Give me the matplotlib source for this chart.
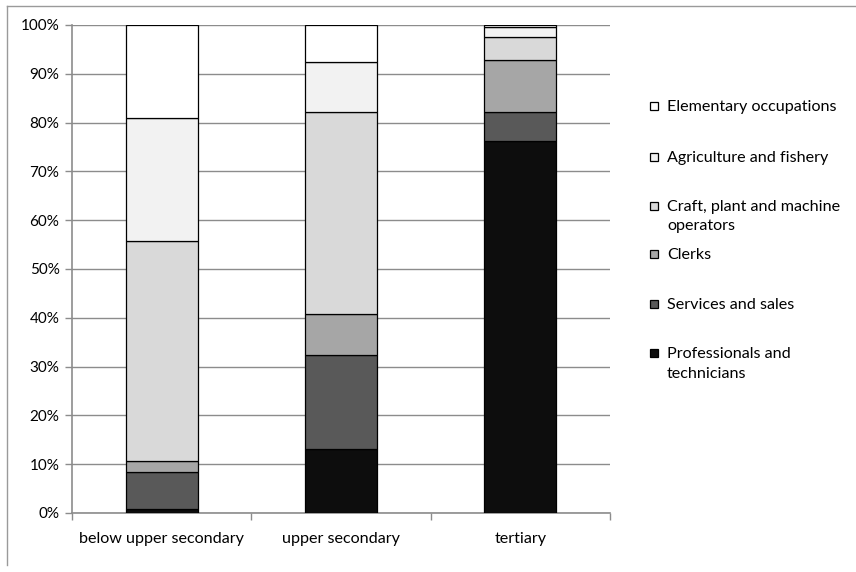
import matplotlib
matplotlib.use("Agg")
import matplotlib.pyplot as plt
from matplotlib.patches import Rectangle
from matplotlib.lines import Line2D
from matplotlib.ticker import FuncFormatter

plt.rcParams['font.family'] = ['Lato', 'DejaVu Sans']

categories = ["below upper secondary", "upper secondary", "tertiary"]
series_names = ["Professionals and technicians", "Services and sales", "Clerks",
                "Craft, plant and machine operators", "Agriculture and fishery",
                "Elementary occupations"]
legend_labels = ["Professionals and\ntechnicians", "Services and sales", "Clerks",
                 "Craft, plant and machine\noperators", "Agriculture and fishery",
                 "Elementary occupations"]
professionals = [0.8, 13.1, 76.2]
services = [7.6, 19.2, 6.0]
clerks = [2.3, 8.5, 10.6]
craft = [45.0, 41.4, 4.7]
agriculture = [25.3, 10.2, 2.1]
elementary = [19.0, 7.6, 0.4]
series = [professionals, services, clerks, craft, agriculture, elementary]
colors = ["#0d0d0d", "#595959", "#a6a6a6", "#d9d9d9", "#f2f2f2", "#ffffff"]

W, H = 856, 572
fig = plt.figure(figsize=(W / 100, H / 100), dpi=100)

def fx(px):
    return px / W

def fy(py):
    return 1 - py / H

left, right, top, bottom = 72, 610, 25, 513
ax = fig.add_axes([fx(left), fy(bottom), fx(right - left), (bottom - top) / H])

grid_c = "#8c8c8c"
x = list(range(len(categories)))
base = [0.0] * len(categories)
for vals, col in zip(series, colors):
    ax.bar(x, vals, width=0.4, bottom=base, color=col, edgecolor="black",
           linewidth=0.9, zorder=3)
    base = [b + v for b, v in zip(base, vals)]

ax.set_xlim(-0.5, len(categories) - 0.5)
ax.set_ylim(0, 100)
ax.set_yticks(range(0, 101, 10))
ax.yaxis.set_major_formatter(FuncFormatter(lambda v, p: f"{int(v)}%"))
ax.set_xticks(x)
ax.set_xticklabels(categories)
ax.set_xticks([i - 0.5 for i in range(len(categories) + 1)], minor=True)
ax.tick_params(axis='x', which='major', length=0, pad=14, labelsize=11.6)
ax.tick_params(axis='x', which='minor', length=5, color=grid_c, width=1)
ax.tick_params(axis='y', length=5, color=grid_c, width=1, pad=4, labelsize=11)
ax.grid(axis='y', color=grid_c, linewidth=1, zorder=0)
for s in ['top', 'right']:
    ax.spines[s].set_visible(False)
for s in ['left', 'bottom']:
    ax.spines[s].set_color(grid_c)
    ax.spines[s].set_linewidth(1.2)

# legend (manual, Excel-like placement)
first_line_y = [353, 304, 254, 206, 157, 106]
for lab, col, yy in zip(legend_labels, colors, first_line_y):
    fig.add_artist(Rectangle((fx(650), fy(yy + 4)), 8 / W, 8 / H,
                             transform=fig.transFigure, facecolor=col,
                             edgecolor="black", linewidth=0.9))
    fig.text(fx(667), fy(yy - 6), lab, ha='left', va='top', fontsize=11.6,
             linespacing=1.5)

# outer chart border (top and left visible)
fig.add_artist(Line2D([fx(7), 1], [fy(6), fy(6)], transform=fig.transFigure,
                      color="#9a9a9a", linewidth=1))
fig.add_artist(Line2D([fx(7), fx(7)], [fy(6), fy(565)], transform=fig.transFigure,
                      color="#9a9a9a", linewidth=1))

fig.savefig("out.png", dpi=100)
